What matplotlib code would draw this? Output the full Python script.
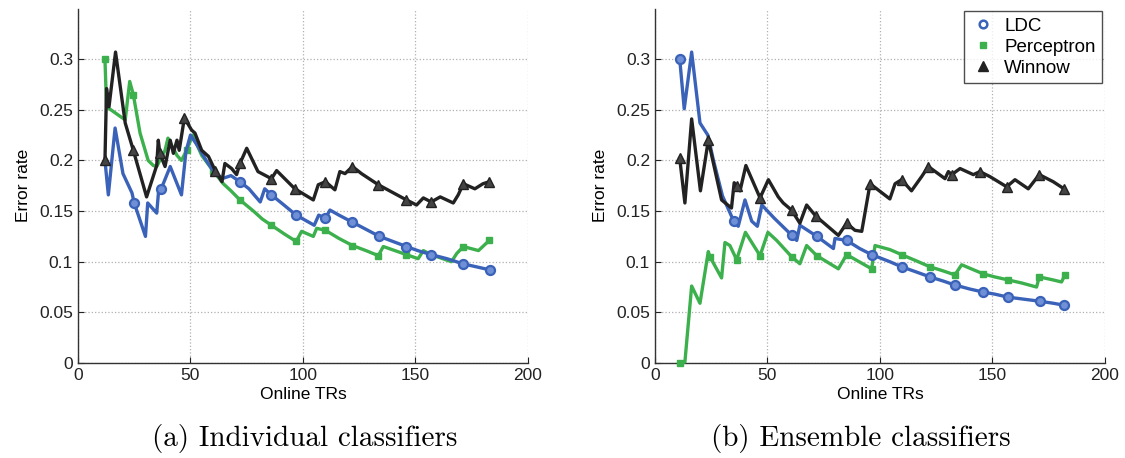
import matplotlib
matplotlib.use("Agg")
import matplotlib.pyplot as plt
from matplotlib.lines import Line2D
from matplotlib.ticker import FuncFormatter
import numpy as np

plt.rcParams['font.family'] = ['Liberation Sans', 'DejaVu Sans']

# ---- (a) individual classifiers -------------------------------------------
ind_ldc_x = [12, 13.5, 16.5, 20, 24, 25, 30, 31, 35, 36, 37, 41, 46, 48, 50, 53, 57, 60, 64, 68, 72,
             76, 81, 83, 86, 91, 97, 105, 107, 110, 112, 116, 122, 128, 134, 140, 146, 151, 157,
             164, 171, 177, 183]
ind_ldc_y = [0.2, 0.166, 0.232, 0.187, 0.168, 0.158, 0.125, 0.158, 0.148, 0.174, 0.172, 0.194, 0.166,
             0.209, 0.225, 0.215, 0.2, 0.19, 0.182, 0.185, 0.179, 0.172, 0.159, 0.172, 0.166, 0.157,
             0.146, 0.136, 0.146, 0.143, 0.151, 0.146, 0.139, 0.132, 0.125, 0.12, 0.115, 0.111,
             0.107, 0.103, 0.098, 0.095, 0.092]
ind_ldc_marks = [25, 37, 72, 86, 97, 110, 122, 134, 146, 157, 171, 183]

ind_per_x = [12, 12.7, 21, 23, 24.6, 27.6, 31.2, 33.5, 35, 38.7, 40, 44, 46, 48.3, 51, 55, 60, 64.6,
             68, 72, 78, 82, 86, 92, 97, 99.4, 104.6, 106.1, 110, 116, 122, 128, 133.5, 135.7,
             146, 151.2, 153.5, 157, 166, 168.3, 171.3, 178, 180.4, 182.8]
ind_per_y = [0.3, 0.253, 0.24, 0.278, 0.265, 0.227, 0.2, 0.195, 0.194, 0.21, 0.222, 0.205, 0.2,
             0.21, 0.225, 0.205, 0.19, 0.177, 0.17, 0.161, 0.15, 0.142, 0.136, 0.127, 0.12, 0.13,
             0.125, 0.133, 0.131, 0.123, 0.116, 0.111, 0.106, 0.115, 0.107, 0.103, 0.111, 0.107,
             0.1, 0.108, 0.115, 0.111, 0.116, 0.121]
ind_per_marks = [12, 24.6, 48.3, 60, 72, 86, 97, 110, 122, 133.5, 146, 157, 171.3, 182.8]

ind_win_x = [12, 12.7, 13.8, 16.7, 21, 24.6, 30.5, 35, 35.7, 36.4, 38.7, 41, 42.4, 44, 45, 47.3,
             50.5, 52, 55, 58, 61, 64, 65.3, 68.3, 70.5, 72, 75, 80, 86, 88.3, 96.4, 104.6, 106.8,
             110, 114.2, 116.4, 118.7, 122, 126, 133.5, 146, 150.5, 153.5, 157, 161, 166.8, 169,
             171.3, 176.4, 180, 182.8]
ind_win_y = [0.2, 0.271, 0.253, 0.307, 0.237, 0.21, 0.164, 0.195, 0.22, 0.207, 0.194, 0.22, 0.207,
             0.22, 0.21, 0.242, 0.23, 0.227, 0.21, 0.204, 0.19, 0.179, 0.197, 0.192, 0.186, 0.197,
             0.212, 0.189, 0.182, 0.19, 0.172, 0.161, 0.176, 0.179, 0.171, 0.189, 0.187, 0.194,
             0.187, 0.176, 0.161, 0.156, 0.163, 0.159, 0.164, 0.158, 0.166, 0.177, 0.172, 0.177,
             0.179]
ind_win_marks = [12, 24.6, 36.4, 47.3, 61, 72, 86, 96.4, 110, 122, 133.5, 146, 157, 171.3, 182.8]

# ---- (b) ensemble classifiers ---------------------------------------------
ens_ldc_x = [11, 13, 16.3, 20, 23.5, 26, 30, 34, 35, 37, 40, 43, 45.5, 47.5, 53, 59, 60.7, 63,
             64.4, 72, 79.3, 80, 85.2, 91, 96.3, 104.4, 109.6, 116, 122.2, 128, 133.3, 140, 146,
             151, 157, 164, 171, 177, 182]
ens_ldc_y = [0.3, 0.251, 0.307, 0.237, 0.225, 0.2, 0.165, 0.145, 0.14, 0.135, 0.161, 0.14, 0.135,
             0.156, 0.143, 0.13, 0.126, 0.121, 0.136, 0.125, 0.113, 0.123, 0.121, 0.113, 0.107,
             0.1, 0.095, 0.09, 0.085, 0.081, 0.077, 0.073, 0.07, 0.068, 0.065, 0.063, 0.061,
             0.059, 0.057]
ens_ldc_marks = [11, 35, 60.7, 72, 85.2, 96.3, 109.6, 122.2, 133.3, 146, 157, 171, 182]

ens_per_x = [11, 13.3, 16.3, 20, 23.7, 24.4, 29.6, 31.1, 33.3, 36.3, 40.2, 46.7, 50.2, 54.1,
             60.7, 64.4, 67.4, 71.9, 81.5, 85.2, 96.3, 97.8, 104.4, 109.6, 116, 122.2, 128, 133.3,
             136.3, 145.9, 151, 157, 163, 169.6, 170.8, 177, 180.7, 182.2]
ens_per_y = [0.0, 0.001, 0.076, 0.059, 0.11, 0.105, 0.084, 0.119, 0.116, 0.102, 0.129, 0.106,
             0.129, 0.121, 0.105, 0.098, 0.116, 0.106, 0.093, 0.107, 0.093, 0.116, 0.112, 0.107,
             0.101, 0.095, 0.091, 0.087, 0.097, 0.088, 0.085, 0.082, 0.079, 0.075, 0.085, 0.082,
             0.08, 0.087]
ens_per_marks = [11, 24.4, 36.3, 46.7, 60.7, 71.9, 85.2, 96.3, 109.6, 122.2, 133.3, 145.9, 157,
                 170.8, 182.2]

ens_win_x = [11, 13.3, 16.3, 20.2, 23.7, 29.6, 34, 35.2, 36.3, 37.8, 40.4, 46.7, 50.4, 54.8, 57,
             60.7, 64.4, 67.4, 71.5, 81.5, 85.2, 88.9, 91.9, 95.6, 104.4, 106.7, 109.6, 114,
             118.5, 121.5, 128.9, 130.4, 131.9, 135.6, 141.5, 144.4, 148.9, 156.3, 160, 165.9,
             170.8, 177, 181.8]
ens_win_y = [0.202, 0.158, 0.241, 0.17, 0.22, 0.161, 0.153, 0.178, 0.175, 0.17, 0.195, 0.163,
             0.181, 0.164, 0.158, 0.151, 0.138, 0.156, 0.145, 0.126, 0.138, 0.131, 0.13, 0.177,
             0.162, 0.177, 0.181, 0.17, 0.184, 0.194, 0.182, 0.189, 0.186, 0.192, 0.186, 0.189,
             0.184, 0.174, 0.181, 0.172, 0.186, 0.179, 0.172]
ens_win_marks = [11, 23.7, 36.3, 46.7, 60.7, 71.5, 85.2, 95.6, 109.6, 121.5, 131.9, 144.4, 156.3,
                 170.8, 181.8]

c_ldc = '#3a62b8'
c_per = '#3cb04c'
c_win = '#222222'

styles = {
    'LDC': dict(color=c_ldc, marker='o', ms=6.5, mfc='#6f8fd6', mec=c_ldc, mew=1.6),
    'Perceptron': dict(color=c_per, marker='s', ms=5, mfc=c_per, mec=c_per),
    'Winnow': dict(color=c_win, marker='^', ms=7.5, mfc='#444444', mec=c_win),
}


def draw_series(ax, x, y, marks, name):
    x = np.asarray(x)
    idx = list(np.nonzero(np.isin(x, marks))[0])
    ax.plot(x, y, lw=2.4, markevery=idx, zorder=3, clip_on=False, **styles[name])


def setup_axes(ax):
    ax.set_xlim(0, 200)
    ax.set_ylim(0, 0.35)
    ax.set_xticks([0, 50, 100, 150, 200])
    ax.set_yticks(np.arange(0, 0.31, 0.05))
    ax.yaxis.set_major_formatter(FuncFormatter(lambda v, p: '%g' % round(v, 2)))
    ax.grid(True, linestyle=':', color='#b0b0b0', lw=0.9)
    ax.spines['top'].set_visible(False)
    ax.spines['right'].set_visible(False)
    for s in ('left', 'bottom'):
        ax.spines[s].set_color('#333333')
        ax.spines[s].set_linewidth(1.0)
    ax.tick_params(direction='in', length=4, labelsize=12.5, colors='#222222')
    ax.set_xlabel('Online TRs', fontsize=12.5, labelpad=3)
    ax.set_ylabel('Error rate', fontsize=12.5, labelpad=6)


fig = plt.figure(figsize=(11.25, 4.58), dpi=100)
ax1 = fig.add_axes([0.0693, 0.2074, 0.40, 0.774])
ax2 = fig.add_axes([0.5822, 0.2074, 0.40, 0.774])

for ax in (ax1, ax2):
    setup_axes(ax)

draw_series(ax1, ind_per_x, ind_per_y, ind_per_marks, 'Perceptron')
draw_series(ax1, ind_ldc_x, ind_ldc_y, ind_ldc_marks, 'LDC')
draw_series(ax1, ind_win_x, ind_win_y, ind_win_marks, 'Winnow')

draw_series(ax2, ens_per_x, ens_per_y, ens_per_marks, 'Perceptron')
draw_series(ax2, ens_ldc_x, ens_ldc_y, ens_ldc_marks, 'LDC')
draw_series(ax2, ens_win_x, ens_win_y, ens_win_marks, 'Winnow')

handles = [
    Line2D([], [], ls='none', marker='o', ms=5.5, mfc='white', mec=c_ldc, mew=1.8),
    Line2D([], [], ls='none', marker='s', ms=5, mfc=c_per, mec=c_per),
    Line2D([], [], ls='none', marker='^', ms=7, mfc=c_win, mec=c_win),
]
leg = ax2.legend(handles, ['LDC', 'Perceptron', 'Winnow'], loc='upper right',
                 bbox_to_anchor=(1.0, 1.0), fontsize=13.5, frameon=True, fancybox=False,
                 edgecolor='#222222', handlelength=1.3, handletextpad=0.5,
                 borderpad=0.35, labelspacing=0.2, borderaxespad=0.15)
leg.get_frame().set_linewidth(1.0)

fig.text(0.271, 0.043, '(a) Individual classifiers', family='cmr10', fontsize=21,
         ha='center', va='center')
fig.text(0.765, 0.043, '(b) Ensemble classifiers', family='cmr10', fontsize=21,
         ha='center', va='center')

fig.savefig('out.png', dpi=100)
